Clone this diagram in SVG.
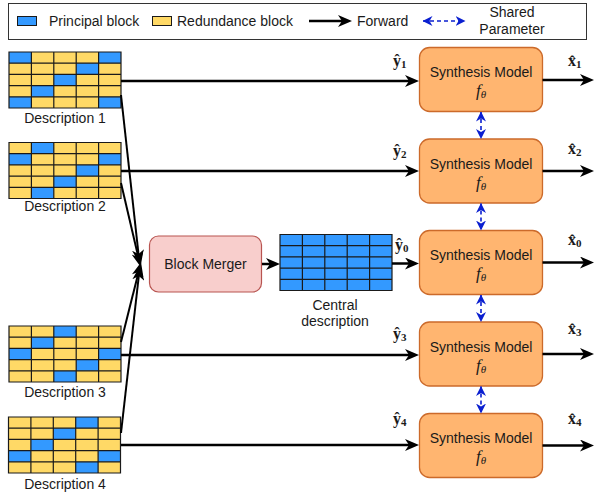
<svg xmlns="http://www.w3.org/2000/svg" xmlns:xlink="http://www.w3.org/1999/xlink" width="594" height="496" viewBox="0 0 594 496">
<style>
.t{font-family:"Liberation Sans",Arial,sans-serif;font-size:14px;fill:#1a1a1a}
.tc{text-anchor:middle}
.y{fill:#ffd966}
.b{fill:#3399ff}
.gl{fill:none;stroke:#1a1a1a;stroke-width:1.2}
.m{fill:#ffb570;stroke:#cc6a2a;stroke-width:1.3}
.f{font-family:"Liberation Serif","Times New Roman",serif;font-style:italic;font-size:17px;fill:#1a1a1a;text-anchor:middle}
.lb{font-family:"Liberation Serif","Times New Roman",serif;font-weight:bold;font-size:16px;fill:#1a1a1a}
.fw{fill:none;stroke:#000;stroke-width:2.5}
.dg{fill:none;stroke:#000;stroke-width:2}
.sh{fill:none;stroke:#0a1fd0;stroke-width:1.6;stroke-dasharray:4 3}
</style>
<defs>
<marker id="ah" markerUnits="userSpaceOnUse" markerWidth="14" markerHeight="12" viewBox="0 0 14 12" refX="4" refY="6" orient="auto">
<path d="M0,0 L14,6 L0,12 L4,6 Z" fill="#000"/>
</marker>
<marker id="bh" markerUnits="userSpaceOnUse" markerWidth="10" markerHeight="11" viewBox="0 0 10 11" refX="9.5" refY="5.5" orient="auto-start-reverse">
<path d="M0,0.5 L10,5.5 L0,10.5 L3,5.5 Z" fill="#0a1fd0"/>
</marker>
<path id="grid" class="gl" d="M0,0 H112 V56 H0 Z M22.4,0 V56 M44.8,0 V56 M67.2,0 V56 M89.6,0 V56 M0,11.2 H112 M0,22.4 H112 M0,33.6 H112 M0,44.8 H112"/>
<rect id="bc" class="b" width="22.4" height="11.2"/>
</defs>

<g id="legend">
<rect x="8.5" y="3.5" width="578" height="36" fill="#fff" stroke="#333" stroke-width="1"/>
<rect x="17.5" y="16.5" width="19" height="9" class="b" stroke="#1a1a1a" stroke-width="1"/>
<text class="t" x="49" y="25.5">Principal block</text>
<rect x="152.5" y="16.5" width="19" height="9" class="y" stroke="#1a1a1a" stroke-width="1"/>
<text class="t" x="177" y="25.5">Redundance block</text>
<path class="fw" d="M309,21 H342" marker-end="url(#ah)"/>
<text class="t" x="357" y="26">Forward</text>
<path class="sh" d="M423,21 H465" marker-start="url(#bh)" marker-end="url(#bh)"/>
<text class="t tc" x="512" y="17">Shared</text>
<text class="t tc" x="512" y="34">Parameter</text>
</g>

<g id="description1" transform="translate(9,52)">
<rect width="112" height="56" class="y"/>
<use xlink:href="#bc" x="0" y="0"/><use xlink:href="#bc" x="89.6" y="0"/>
<use xlink:href="#bc" x="67.2" y="11.2"/><use xlink:href="#bc" x="44.8" y="22.4"/>
<use xlink:href="#bc" x="22.4" y="33.6"/><use xlink:href="#bc" x="0" y="44.8"/><use xlink:href="#bc" x="89.6" y="44.8"/>
<use xlink:href="#grid"/>
<text class="t tc" x="56" y="70.5">Description 1</text>
</g>

<g id="description2" transform="translate(9,142.5)">
<rect width="112" height="56" class="y"/>
<use xlink:href="#bc" x="22.4" y="0"/><use xlink:href="#bc" x="0" y="11.2"/><use xlink:href="#bc" x="89.6" y="11.2"/>
<use xlink:href="#bc" x="67.2" y="22.4"/><use xlink:href="#bc" x="44.8" y="33.6"/><use xlink:href="#bc" x="22.4" y="44.8"/>
<use xlink:href="#grid"/>
<text class="t tc" x="56" y="68">Description 2</text>
</g>

<g id="description3" transform="translate(9,326)">
<rect width="112" height="56" class="y"/>
<use xlink:href="#bc" x="44.8" y="0"/><use xlink:href="#bc" x="22.4" y="11.2"/><use xlink:href="#bc" x="0" y="22.4"/>
<use xlink:href="#bc" x="89.6" y="22.4"/><use xlink:href="#bc" x="67.2" y="33.6"/><use xlink:href="#bc" x="44.8" y="44.8"/>
<use xlink:href="#grid"/>
<text class="t tc" x="56" y="70.5">Description 3</text>
</g>

<g id="description4" transform="translate(8.5,417)">
<rect width="112" height="56" class="y"/>
<use xlink:href="#bc" x="67.2" y="0"/><use xlink:href="#bc" x="44.8" y="11.2"/><use xlink:href="#bc" x="22.4" y="22.4"/>
<use xlink:href="#bc" x="0" y="33.6"/><use xlink:href="#bc" x="89.6" y="33.6"/><use xlink:href="#bc" x="67.2" y="44.8"/>
<use xlink:href="#grid"/>
<text class="t tc" x="56.5" y="71.5">Description 4</text>
</g>

<g id="block-merger">
<rect x="149.5" y="236" width="112" height="56" rx="9" fill="#f8cecc" stroke="#b85450" stroke-width="1.2"/>
<text class="t tc" x="205.5" y="269">Block Merger</text>
</g>

<g id="central-description" transform="translate(280,234.5)">
<rect width="112" height="56" class="b"/>
<use xlink:href="#grid"/>
<text class="t tc" x="55" y="75.5">Central</text>
<text class="t tc" x="55" y="91.5">description</text>
</g>

<g id="model1">
<rect class="m" x="419.5" y="47.5" width="123" height="64" rx="10"/>
<text class="t tc" x="481" y="77">Synthesis Model</text>
<text class="f" x="481" y="96">f<tspan font-size="11" dy="2">θ</tspan></text>
</g>
<g id="model2">
<rect class="m" x="419.5" y="139" width="123" height="64" rx="10"/>
<text class="t tc" x="481" y="168.5">Synthesis Model</text>
<text class="f" x="481" y="187.5">f<tspan font-size="11" dy="2">θ</tspan></text>
</g>
<g id="model0">
<rect class="m" x="419.5" y="230.5" width="123" height="64" rx="10"/>
<text class="t tc" x="481" y="260">Synthesis Model</text>
<text class="f" x="481" y="279">f<tspan font-size="11" dy="2">θ</tspan></text>
</g>
<g id="model3">
<rect class="m" x="419.5" y="322" width="123" height="64" rx="10"/>
<text class="t tc" x="481" y="351.5">Synthesis Model</text>
<text class="f" x="481" y="370.5">f<tspan font-size="11" dy="2">θ</tspan></text>
</g>
<g id="model4">
<rect class="m" x="419.5" y="413.5" width="123" height="64" rx="10"/>
<text class="t tc" x="481" y="443">Synthesis Model</text>
<text class="f" x="481" y="462">f<tspan font-size="11" dy="2">θ</tspan></text>
</g>

<g id="connectors">
<path class="fw" d="M121,81 H409" marker-end="url(#ah)"/>
<path class="fw" d="M121,171 H409" marker-end="url(#ah)"/>
<path class="fw" d="M392,263.5 H409" marker-end="url(#ah)"/>
<path class="fw" d="M121,355 H409" marker-end="url(#ah)"/>
<path class="fw" d="M121,445 H409" marker-end="url(#ah)"/>
<path class="dg" d="M121,95 L138.5,254" marker-end="url(#ah)"/>
<path class="dg" d="M121,183 L138.3,257" marker-end="url(#ah)"/>
<path class="dg" d="M121,342 L138.6,272" marker-end="url(#ah)"/>
<path class="dg" d="M121,433 L138.8,276" marker-end="url(#ah)"/>
<path class="fw" d="M262,264 H270" marker-end="url(#ah)"/>
<path class="fw" d="M542.5,80 H584" marker-end="url(#ah)"/>
<path class="fw" d="M542.5,171 H584" marker-end="url(#ah)"/>
<path class="fw" d="M542.5,262.5 H584" marker-end="url(#ah)"/>
<path class="fw" d="M542.5,354 H584" marker-end="url(#ah)"/>
<path class="fw" d="M542.5,445.5 H584" marker-end="url(#ah)"/>
<path class="sh" d="M481,112 V138.5" marker-start="url(#bh)" marker-end="url(#bh)"/>
<path class="sh" d="M481,203.5 V230" marker-start="url(#bh)" marker-end="url(#bh)"/>
<path class="sh" d="M481,295 V321.5" marker-start="url(#bh)" marker-end="url(#bh)"/>
<path class="sh" d="M481,386.5 V413" marker-start="url(#bh)" marker-end="url(#bh)"/>
</g>

<g id="labels">
<text class="lb" x="393" y="66">ŷ<tspan font-size="11" dy="2">1</tspan></text>
<text class="lb" x="393" y="156">ŷ<tspan font-size="11" dy="2">2</tspan></text>
<text class="lb" x="395" y="250">ŷ<tspan font-size="11" dy="2">0</tspan></text>
<text class="lb" x="393" y="339">ŷ<tspan font-size="11" dy="2">3</tspan></text>
<text class="lb" x="393" y="424">ŷ<tspan font-size="11" dy="2">4</tspan></text>
<text class="lb" x="568" y="66">x̂<tspan font-size="11" dy="2">1</tspan></text>
<text class="lb" x="568" y="154">x̂<tspan font-size="11" dy="2">2</tspan></text>
<text class="lb" x="568" y="245">x̂<tspan font-size="11" dy="2">0</tspan></text>
<text class="lb" x="568" y="334">x̂<tspan font-size="11" dy="2">3</tspan></text>
<text class="lb" x="568" y="424">x̂<tspan font-size="11" dy="2">4</tspan></text>
</g>
</svg>
